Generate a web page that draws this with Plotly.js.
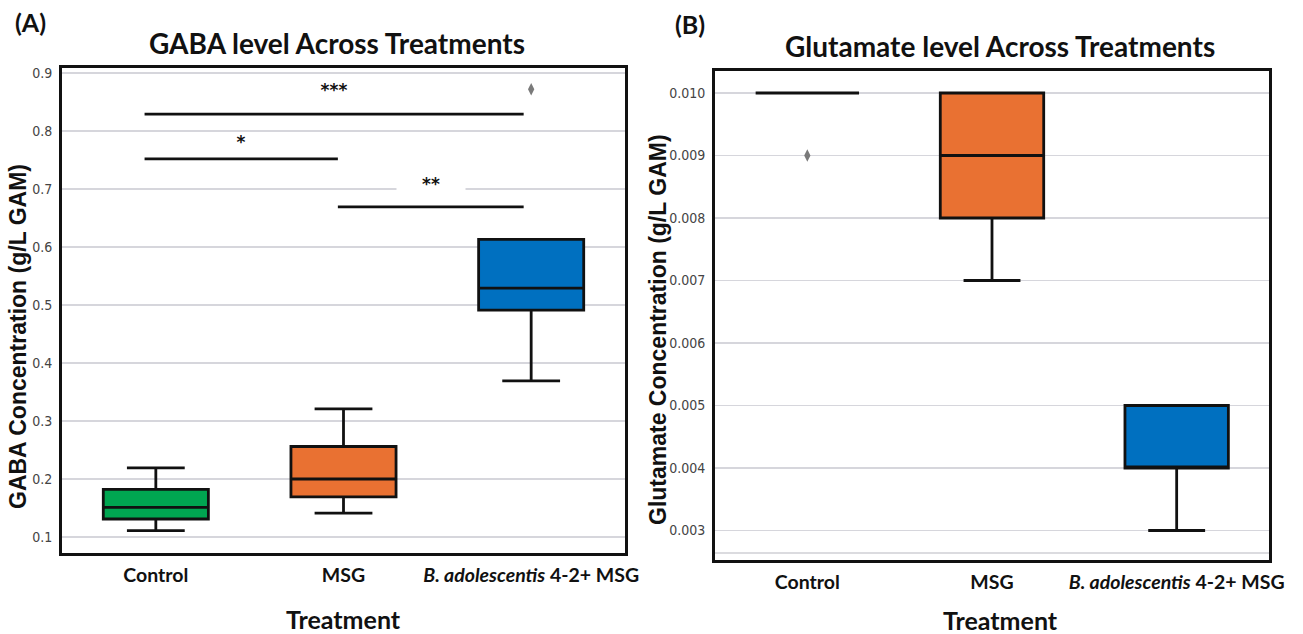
<!DOCTYPE html>
<html>
<head>
<meta charset="utf-8">
<script src="https://cdn.plot.ly/plotly-3.0.1.min.js"></script>
<style>html,body{margin:0;padding:0;background:#fff}#chart{width:1303px;height:634px}</style>
</head>
<body>
<div id="chart"></div>
<script>
// ---- data ----
const categories = ['Control', 'MSG', 'B. adolescentis 4-2+ MSG'];
const tickLabels = ['Control', 'MSG', '<i>B. adolescentis</i> 4-2+ MSG'];
const boxColors = ['#00A651', '#E97132', '#0070C0'];

// GABA (g/L GAM)
const gabaQ1 = [0.131, 0.169, 0.491];
const gabaMedian = [0.151, 0.200, 0.529];
const gabaQ3 = [0.182, 0.256, 0.613];
const gabaLower = [0.111, 0.141, 0.369];
const gabaUpper = [0.219, 0.321, 0.613];
const gabaOutlierCat = ['B. adolescentis 4-2+ MSG'];
const gabaOutlierVal = [0.872];

// Glutamate (g/L GAM)
const gluQ1 = [0.010, 0.008, 0.004];
const gluMedian = [0.010, 0.009, 0.004];
const gluQ3 = [0.010, 0.010, 0.005];
const gluLower = [0.010, 0.007, 0.003];
const gluUpper = [0.010, 0.010, 0.005];
const gluOutlierCat = ['Control'];
const gluOutlierVal = [0.009];

// significance brackets (panel A): category index span, level, label
const sigFrom = [-0.06, -0.06, 0.97];
const sigTo = [1.96, 0.97, 1.96];
const sigLevel = [0.829, 0.752, 0.669];
const sigLabel = ['***', '*', '**'];
const sigLabelLevel = [0.870, 0.781, 0.709];

// ---- build ----
const tickFont = {family: 'Liberation Sans Narrow, DejaVu Sans Condensed, sans-serif', size: 14, color: '#444'};
const boldFont = {family: 'Lato, Open Sans, sans-serif', weight: 700, color: '#111'};
const traces = [];

function addBoxes(q1, med, q3, lo, hi, xa, ya) {
  categories.forEach((c, i) => {
    traces.push({
      type: 'box', x: [c], q1: [q1[i]], median: [med[i]], q3: [q3[i]],
      lowerfence: [lo[i]], upperfence: [hi[i]],
      fillcolor: boxColors[i], line: {color: '#111', width: 2.8},
      whiskerwidth: 0.55, boxpoints: false, showlegend: false,
      xaxis: xa, yaxis: ya, hoverinfo: 'skip'
    });
  });
}
addBoxes(gabaQ1, gabaMedian, gabaQ3, gabaLower, gabaUpper, 'x', 'y');
addBoxes(gluQ1, gluMedian, gluQ3, gluLower, gluUpper, 'x2', 'y2');

traces.push({type: 'scatter', mode: 'markers', x: gabaOutlierCat, y: gabaOutlierVal,
  marker: {symbol: 'diamond-tall', size: 9, color: '#7a7a7a'}, showlegend: false, xaxis: 'x', yaxis: 'y'});
traces.push({type: 'scatter', mode: 'markers', x: gluOutlierCat, y: gluOutlierVal,
  marker: {symbol: 'diamond-tall', size: 9, color: '#7a7a7a'}, showlegend: false, xaxis: 'x2', yaxis: 'y2'});

const shapes = [];
const annotations = [];
sigLevel.forEach((lv, i) => {
  shapes.push({type: 'line', xref: 'x', yref: 'y', x0: sigFrom[i], x1: sigTo[i], y0: lv, y1: lv,
    line: {color: '#111', width: 2.8}});
  annotations.push({xref: 'x', yref: 'y', x: (sigFrom[i] + sigTo[i]) / 2, y: sigLabelLevel[i],
    xanchor: 'center', yanchor: 'middle',
    text: '<b>' + sigLabel[i] + '</b>', showarrow: false,
    bgcolor: sigLabel[i] === '**' ? '#fff' : 'rgba(0,0,0,0)', width: 66,
    font: {family: 'DejaVu Sans, sans-serif', size: 17, color: '#111'}});
});
// faint baseline line in panel B
shapes.push({type: 'line', xref: 'x2 domain', yref: 'y2', x0: 0, x1: 1, y0: 0.00264, y1: 0.00264,
  line: {color: '#cfcfd4', width: 1.5}, layer: 'below'});

const W = 1303, H = 634;
const px = v => v / W, py = v => 1 - v / H;
function label(x, y, text, font, angle) {
  return {xref: 'paper', yref: 'paper', x: px(x), y: py(y), xanchor: 'center', yanchor: 'middle',
    text: text, showarrow: false, font: font, textangle: angle || 0};
}
const yTitleFont = {family: 'Liberation Sans, Arial, sans-serif', size: 23, weight: 700, color: '#111'};

annotations.push(
  label(30, 22, '(A)', Object.assign({}, boldFont, {size: 25})),
  label(690, 24, '(B)', Object.assign({}, boldFont, {size: 25})),
  label(337, 43, 'GABA level Across Treatments', Object.assign({}, boldFont, {size: 28})),
  label(1000, 46, 'Glutamate level Across Treatments', Object.assign({}, boldFont, {size: 28})),
  label(343, 619, 'Treatment', Object.assign({}, boldFont, {size: 25})),
  label(1001, 620, 'Treatment', Object.assign({}, boldFont, {size: 25})),
  label(18, 337, 'GABA Concentration (g/L GAM)', yTitleFont, -90),
  label(658, 329, 'Glutamate Concentration (g/L GAM)', yTitleFont, -90)
);

const xCommon = {
  type: 'category', categoryorder: 'array', categoryarray: categories,
  tickvals: categories, ticktext: tickLabels, range: [-0.5, 2.5],
  showgrid: false, zeroline: false, showline: true, mirror: true, linecolor: '#111', linewidth: 3,
  ticks: '', tickfont: Object.assign({}, boldFont, {size: 19.5})
};
const yCommon = {
  showgrid: true, gridcolor: '#d6d6dc', gridwidth: 1.2, zeroline: false,
  showline: true, mirror: true, linecolor: '#111', linewidth: 3, ticks: '', tickfont: tickFont,
  ticklabelstandoff: 4
};

const layout = {
  width: W, height: H, margin: {l: 0, r: 0, t: 0, b: 0},
  paper_bgcolor: '#fff', plot_bgcolor: '#fff', showlegend: false, boxgap: 0.2,
  xaxis: Object.assign({}, xCommon, {domain: [px(62), px(625)], anchor: 'y', ticklabelstandoff: 3}),
  yaxis: Object.assign({}, yCommon, {domain: [py(553), py(68)], anchor: 'x', range: [0.0724, 0.9086],
    tickvals: [0.1, 0.2, 0.3, 0.4, 0.5, 0.6, 0.7, 0.8, 0.9], ticktext: ['0.1','0.2','0.3','0.4','0.5','0.6','0.7','0.8','0.9']}),
  xaxis2: Object.assign({}, xCommon, {domain: [px(715), px(1269)], anchor: 'y2', ticklabelstandoff: 3}),
  yaxis2: Object.assign({}, yCommon, {domain: [py(559.5), py(70.7)], anchor: 'x2', range: [0.002536, 0.010357],
    tickvals: [0.003, 0.004, 0.005, 0.006, 0.007, 0.008, 0.009, 0.010],
    ticktext: ['0.003','0.004','0.005','0.006','0.007','0.008','0.009','0.010']}),
  shapes: shapes, annotations: annotations
};

Plotly.newPlot('chart', traces, layout, {displayModeBar: false, staticPlot: true});
</script>
</body>
</html>
